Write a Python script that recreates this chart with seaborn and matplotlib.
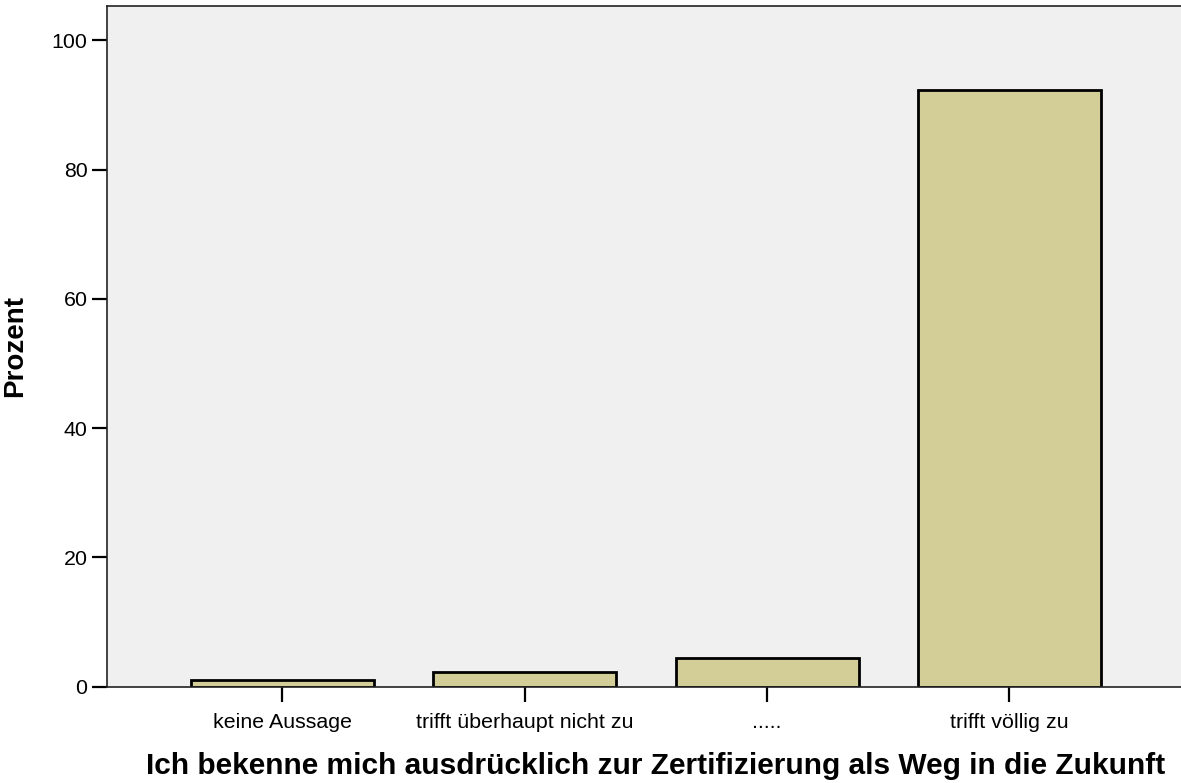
import matplotlib
matplotlib.use("Agg")
import matplotlib.pyplot as plt
import seaborn as sns
import pandas as pd

categories = ["keine Aussage", "trifft überhaupt nicht zu", ".....", "trifft völlig zu"]
percent = [1.1, 2.3, 4.4, 92.3]
yticks = [0, 20, 40, 60, 80, 100]
xlabel = "Ich bekenne mich ausdrücklich zur Zertifizierung als Weg in die Zukunft"
ylabel = "Prozent"

sns.set_style("white")
plt.rcParams['font.family'] = ['Liberation Sans', 'DejaVu Sans']
plt.rcParams['text.color'] = 'black'
plt.rcParams['axes.labelcolor'] = 'black'

df = pd.DataFrame({"cat": categories, "pct": percent})

fig = plt.figure(figsize=(11.81, 7.83), dpi=100)
ax = fig.add_axes([107/1181, 1 - 686.7/783, 1 - 107/1181, (686.7 - 6)/783])
ax.set_facecolor("#F0F0F0")

sns.barplot(data=df, x="cat", y="pct", order=categories, color="#D3CE98",
            saturation=1, edgecolor="black", linewidth=2.0, width=0.755, ax=ax)

ax.set_xlim(-0.724, 3.708)
ax.set_ylim(0, 105.3)
ax.set_yticks(yticks)
ax.set_yticklabels([str(v) for v in yticks])

ax.tick_params(axis="both", direction="out", length=11, width=1.6, color="black",
               labelsize=15.4, labelcolor="black", bottom=True, left=True)
ax.tick_params(axis="y", pad=3)
ax.tick_params(axis="x", pad=8)

for side in ["left", "top", "bottom"]:
    ax.spines[side].set_visible(True)
    ax.spines[side].set_color("#222222")
    ax.spines[side].set_linewidth(1.2)
ax.spines["right"].set_visible(False)

ax.set_xlabel(xlabel, fontsize=21.5, fontweight="bold", color="black")
ax.set_ylabel(ylabel, fontsize=20, fontweight="bold", color="black")
ax.yaxis.set_label_coords((28 - 107) / (1181 - 107), 0.5)
ax.xaxis.set_label_coords((656 - 107) / (1181 - 107), -(752 - 686.7) / (686.7 - 6))

fig.savefig("out.png", dpi=100)
